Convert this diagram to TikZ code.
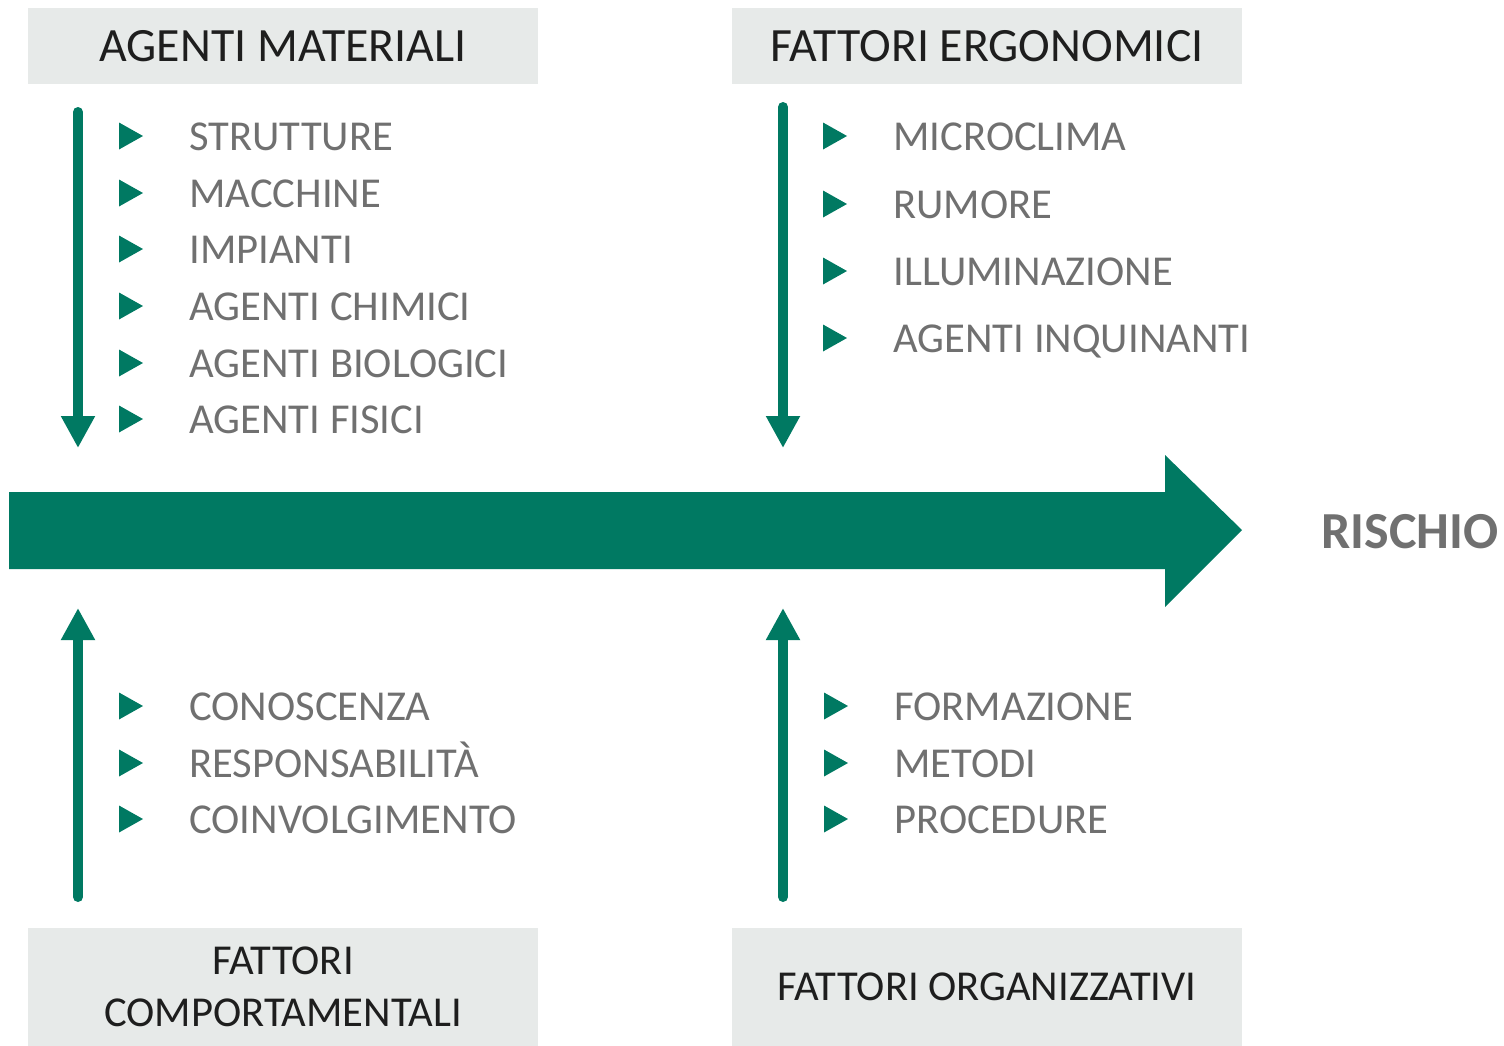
\documentclass[tikz,border=0pt]{standalone}
\usepackage{fontspec}
\setmainfont{Carlito}
\usetikzlibrary{arrows.meta}
\definecolor{riskgreen}{RGB}{0,121,98}
\definecolor{boxgray}{RGB}{231,234,233}
\definecolor{itemgray}{RGB}{112,112,112}
\definecolor{headblack}{RGB}{30,30,30}
\tikzset{
  headbox/.style={fill=boxgray, minimum width=255pt, inner sep=0pt, align=center,
    text=headblack, font=\fontsize{23.9}{26}\selectfont},
  footbox/.style={headbox, font=\fontsize{21.3}{26}\selectfont},
  itemtext/.style={anchor=base west, inner sep=0pt, text=itemgray, font=\fontsize{21.3}{24}\selectfont},
  flowarrow/.style={draw=riskgreen, line width=5pt, line cap=round,
    -{Triangle[width=16pt,length=16pt]}},
  bullet/.pic={\fill[riskgreen] (-12,-13.5) -- (12,0) -- (-12,13.5) -- cycle;}
}
\begin{document}
\begin{tikzpicture}[x=0.5pt,y=-0.5pt]
\useasboundingbox (0,0) rectangle (1504,1045);
% header boxes
\node[headbox, minimum height=38pt] (am) at (283,46) {AGENTI MATERIALI};
\node[headbox, minimum height=38pt] (fe) at (987,46) {FATTORI ERGONOMICI};
\node[footbox, minimum height=59pt] (fc) at (283,987) {FATTORI\\COMPORTAMENTALI};
\node[footbox, minimum height=59pt] (fo) at (987,987) {FATTORI ORGANIZZATIVI};
% main arrow
\coordinate (mstart) at (9,530);
\coordinate (mtip) at (1242,530);
\fill[riskgreen] (9,492) -- (1165,492) -- (1165,455) -- (mtip) -- (1165,607) -- (1165,569) -- (9,569) -- cycle;
\node[anchor=west, inner sep=0pt, text=itemgray, font=\fontsize{26}{30}\bfseries\selectfont] (risk) at (1321,532) {RISCHIO};
% vertical arrows
\coordinate (a1s) at (78,112); \coordinate (a1e) at (78,448);
\coordinate (a2s) at (783,107); \coordinate (a2e) at (783,448);
\coordinate (a3s) at (78,897); \coordinate (a3e) at (78,608);
\coordinate (a4s) at (783,897); \coordinate (a4e) at (783,608);
\draw[flowarrow] (a1s) -- (a1e);
\draw[flowarrow] (a2s) -- (a2e);
\draw[flowarrow] (a3s) -- (a3e);
\draw[flowarrow] (a4s) -- (a4e);
% top-left items
\foreach \y/\t/\n in {136/STRUTTURE/i1, 193/MACCHINE/i2, 249/IMPIANTI/i3, 306/AGENTI CHIMICI/i4, 363/AGENTI BIOLOGICI/i5, 419/AGENTI FISICI/i6}{
  \pic at (131,\y) {bullet};
  \node[itemtext] (\n) at (189,\y+14) {\t};
}
% top-right items
\foreach \y/\t/\n in {136/MICROCLIMA/j1, 204/RUMORE/j2, 271/ILLUMINAZIONE/j3, 338/AGENTI INQUINANTI/j4}{
  \pic at (835,\y) {bullet};
  \node[itemtext] (\n) at (893,\y+14) {\t};
}
% bottom-left items
\foreach \y/\t/\n in {706/CONOSCENZA/k1, 763/RESPONSABILITÀ/k2, 819/COINVOLGIMENTO/k3}{
  \pic at (131,\y) {bullet};
  \node[itemtext] (\n) at (189,\y+14) {\t};
}
% bottom-right items
\foreach \y/\t/\n in {706/FORMAZIONE/l1, 763/METODI/l2, 819/PROCEDURE/l3}{
  \pic at (836,\y) {bullet};
  \node[itemtext] (\n) at (894,\y+14) {\t};
}
\end{tikzpicture}
\end{document}
